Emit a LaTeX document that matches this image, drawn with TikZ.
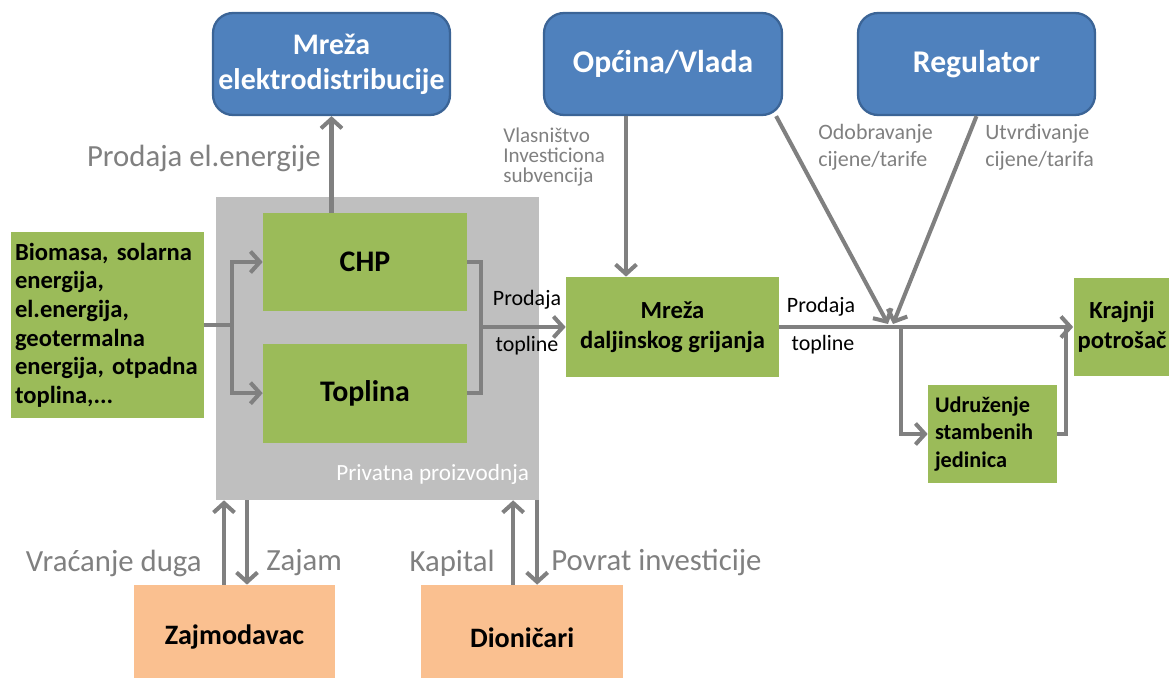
\documentclass[tikz,border=0pt]{standalone}
\usepackage{fontspec}
\setmainfont{Carlito}
\usepackage{tikz}
\usetikzlibrary{positioning}
\usetikzlibrary{arrows.meta}
\definecolor{plava}{HTML}{4F81BD}
\definecolor{plavarub}{HTML}{3B6496}
\definecolor{zelena}{HTML}{9BBB59}
\definecolor{narancasta}{HTML}{FAC090}
\definecolor{siva}{HTML}{BFBFBF}
\definecolor{strelica}{HTML}{808080}
\def\fs#1#2{\fontsize{#1}{#2}\selectfont}

\begin{document}
\begin{tikzpicture}[x=0.02cm,y=-0.02cm]
\tikzstyle{inst}=[rectangle, rounded corners=0.4cm, fill=plava, draw=plavarub, line width=1.3pt, text=white, font=\fs{17}{20}\bfseries, align=center, minimum width=4.74cm, minimum height=2.04cm, inner sep=0pt]
\tikzstyle{unit}=[rectangle, fill=zelena, font=\fs{17}{20}\bfseries, align=center, inner sep=0pt]
\tikzstyle{fin}=[rectangle, fill=narancasta, font=\fs{16}{19}\bfseries, minimum width=4.04cm, minimum height=2.1cm, inner sep=0pt]
\tikzstyle{connect}=[-{Straight Barb[length=1.9mm,width=4.2mm]}, line width=2.3pt, draw=strelica]
\tikzstyle{wire}=[line width=2.3pt, draw=strelica]
\tikzstyle{lbl}=[text=strelica, font=\fs{17.5}{20}, inner sep=0pt]
\tikzstyle{note}=[text=strelica, font=\fs{12.5}{15.5}, align=left, inner sep=0pt]
\tikzstyle{tinylbl}=[font=\fs{12.5}{15}, inner sep=0pt]
\useasboundingbox (0,0) rectangle (1169,678);
\clip (0,0) rectangle (1169,678);

  \node[inst] (elek) at (331.5,64) {Mreža\\elektrodistribucije};
  \node[inst, minimum width=4.76cm, font=\fs{18}{20}\bfseries] (opcina) at (663,64) {Općina/Vlada};
  \node[inst, font=\fs{18}{20}\bfseries] (reg) at (976.5,64) {Regulator};

  % privatna proizvodnja
  \node[rectangle, fill=siva, minimum width=6.46cm, minimum height=6.06cm] (priv) at (377.5,348.5) {};
  \node[unit, minimum width=4.08cm, minimum height=1.96cm] (chp) at (365,262) {CHP};
  \node[unit, minimum width=4.08cm, minimum height=1.98cm, below=0.64cm of chp] (topl) {Toplina};
  \node[anchor=east, text=white, font=\fs{13.2}{15}, inner sep=0pt] (privlbl) at ([shift={(-10,-26)}]priv.south east) {Privatna proizvodnja};

  \node[unit, font=\fs{14}{16.3}\bfseries, align=left, text width=3.7cm, minimum width=3.86cm, minimum height=3.72cm, inner xsep=0.08cm] (bio) at (107.5,325) {Biomasa, solarna\\energija,\\el.energija,\\geotermalna\\energija, otpadna\\toplina,...};
  \node[unit, font=\fs{14}{17}\bfseries, minimum width=4.26cm, minimum height=2cm] (mdg) at (672.5,327) {Mreža\\daljinskog grijanja};
  \node[unit, font=\fs{14}{17}\bfseries, minimum width=1.94cm, minimum height=1.96cm] (kp) at (1122,327) {Krajnji\\potrošač};
  \node[unit, font=\fs{12.7}{15.4}\bfseries, align=left, text width=2.3cm, minimum width=2.58cm, minimum height=1.96cm, inner xsep=0.14cm] (udr) at (992.5,434) {Udruženje\\stambenih\\jedinica};

  \node[fin] (zaj) at (234.5,637.5) {Zajmodavac};
  \node[fin, right=1.7cm of zaj] (dio) {Dioničari};

  % ulaz i izlaz proizvodnje
  \draw[connect] (bio.east) -- ++(28,0) coordinate (ulaz) |- (chp.west);
  \draw[connect] (ulaz) |- (topl.west);
  \draw[wire] (chp.east) -- ++(14,0) coordinate (izlaz) |- (topl.east);
  \draw[connect] (izlaz |- mdg.west) -- (mdg.west);
  \node[tinylbl] (prod1) at (527,300) {Prodaja};
  \node[tinylbl] (topl1) at (527,346) {topline};

  \path (chp.north -| elek.south) edge [connect] (elek.south);
  \node[lbl, anchor=east] (prodel) at (321,158) {Prodaja el.energije};

  \draw[connect] ([xshift=-0.74cm]opcina.south) -- ([xshift=-0.74cm]opcina.south |- mdg.north);
  \node[note, anchor=west, font=\fs{12}{11.5}] (vlas) at (503,157) {Vlasništvo\\Investiciona\\subvencija};

  \coordinate (spoj1) at (888,324);
  \coordinate (spoj2) at (893,324);
  \draw[connect] ([xshift=-0.14cm]opcina.south east) -- (spoj1);
  \draw[connect] (reg.south) -- (spoj2);
  \node[note, anchor=west] (odob) at (818,147) {Odobravanje\\cijene/tarife};
  \node[note, anchor=west] (utvr) at (985,147) {Utvrđivanje\\cijene/tarifa};

  % prodaja krajnjim potrošačima
  \draw[connect] (mdg.east) -- (kp.west);
  \coordinate (grana) at (901,327);
  \draw[connect] (grana) |- (udr.west);
  \draw[wire] (udr.east) -| ([xshift=-0.14cm]kp.west);
  \node[tinylbl] (prod2) at (821,307) {Prodaja};
  \node[tinylbl] (topl2) at (823,345) {topline};

  % financiranje
  \draw[connect] ([xshift=-0.21cm]zaj.north) -- ([xshift=-0.21cm]zaj.north |- priv.south);
  \draw[connect] ([xshift=0.25cm]zaj.north |- priv.south) -- ([xshift=0.25cm]zaj.north);
  \draw[connect] ([xshift=-0.18cm]dio.north) -- ([xshift=-0.18cm]dio.north |- priv.south);
  \draw[connect] ([xshift=0.3cm]dio.north |- priv.south) -- ([xshift=0.3cm]dio.north);
  \node[lbl, anchor=east] (vrac) at (202,563) {Vraćanje duga};
  \node[lbl, anchor=west] (zajam) at (266,563) {Zajam};
  \node[lbl, anchor=east] (kap) at (495,563) {Kapital};
  \node[lbl, anchor=west] (povrat) at (551,563) {Povrat investicije};
\end{tikzpicture}
\end{document}
